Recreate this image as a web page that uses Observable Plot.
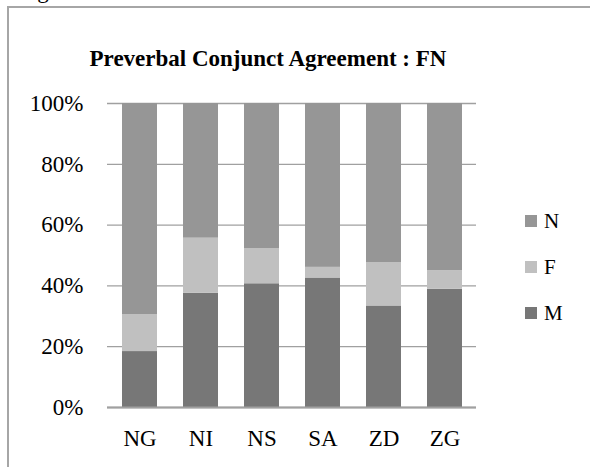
<!DOCTYPE html>
<html>
<head>
<meta charset="utf-8">
<script src="https://cdn.jsdelivr.net/npm/d3@7"></script>
<script src="https://cdn.jsdelivr.net/npm/@observablehq/plot@0.6"></script>
<style>
  html, body { margin: 0; padding: 0; background: #fff; }
  #wrap { position: relative; width: 590px; height: 467px; overflow: hidden; font-family: "Liberation Serif", "Times New Roman", serif; color: #000; }
  #frame { position: absolute; left: 7px; top: 6px; width: 700px; height: 700px; border-left: 2px solid #a6a6a6; border-top: 2px solid #a6a6a6; }
  #cap { position: absolute; left: 18px; top: -22px; font-size: 23px; }
  #title { position: absolute; left: 0; width: 536px; top: 46px; text-align: center; font-weight: bold; font-size: 23px; }
  #legend { position: absolute; left: 525px; top: 209px; font-size: 21px; }
  .li { display: flex; align-items: center; height: 24px; margin-bottom: 22px; }
  .sw { width: 12px; height: 12px; margin-right: 7px; }
  #chart { position: absolute; left: 0; top: 0; }
</style>
</head>
<body>
<div id="wrap">
  <div id="cap">Figure</div>
  <div id="frame"></div>
  <div id="chart"></div>
  <div id="title">Preverbal Conjunct Agreement : FN</div>
  <div id="legend"></div>
</div>
<script>
const categories = ["NG", "NI", "NS", "SA", "ZD", "ZG"];
const seriesNames = ["M", "F", "N"];
const valuesM = [18.4, 37.6, 40.7, 42.6, 33.4, 38.9];
const valuesF = [12.1, 18.1, 11.5, 3.5, 14.3, 6.1];
const valuesN = [69.5, 44.3, 47.8, 53.9, 52.3, 55.0];
const colors = ["#777777", "#c0c0c0", "#969696"];
const yTicks = [0, 0.2, 0.4, 0.6, 0.8, 1.0];

const seriesValues = [valuesM, valuesF, valuesN];
const data = [];
seriesNames.forEach((s, si) => {
  categories.forEach((c, ci) => {
    data.push({cat: c, series: s, value: seriesValues[si][ci]});
  });
});

const plot = Plot.plot({
  width: 590,
  height: 467,
  marginLeft: 107,
  marginRight: 114,
  marginTop: 103,
  marginBottom: 60,
  style: {fontFamily: "'Liberation Serif', 'Times New Roman', serif", fontSize: "23px", color: "#000", background: "transparent"},
  x: {domain: categories, paddingInner: 0.43, paddingOuter: 0.215, label: null, tickSize: 0, tickPadding: 22},
  y: {domain: [0, 1], ticks: yTicks, tickFormat: d => Math.round(d * 100) + "%", label: null, tickSize: 0, tickPadding: 24},
  color: {domain: seriesNames, range: colors},
  marks: [
    Plot.ruleY(yTicks, {stroke: "#a0a0a0", strokeWidth: 1.3}),
    Plot.barY(data, Plot.stackY({offset: "normalize", order: seriesNames, x: "cat", y: "value", fill: "series"})),
    Plot.ruleY([0], {stroke: "#a0a0a0", strokeWidth: 2}),
    Plot.ruleX([0], {frameAnchor: "left", y1: 0, y2: 1, stroke: "#a0a0a0", strokeWidth: 1.5})
  ]
});
document.getElementById("chart").appendChild(plot);

const legend = document.getElementById("legend");
["N", "F", "M"].forEach(s => {
  const i = seriesNames.indexOf(s);
  const row = document.createElement("div");
  row.className = "li";
  row.innerHTML = `<div class="sw" style="background:${colors[i]}"></div><span>${s}</span>`;
  legend.appendChild(row);
});
</script>
</body>
</html>
